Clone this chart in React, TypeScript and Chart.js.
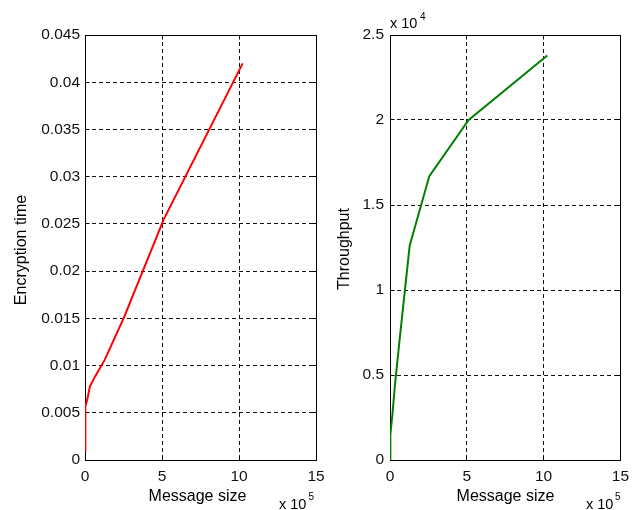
import React, { useEffect, useRef } from "react";
import { Chart, registerables } from "chart.js";

Chart.register(...registerables);

// ---- data ----
const MESSAGE_SIZES = [0, 1000, 2000, 4000, 8000, 16000, 32000, 64000, 128000, 256000, 512000, 1024000];
const ENCRYPTION_TIME = [0.001, 0.0045, 0.0052, 0.0057, 0.006, 0.0065, 0.0078, 0.0088, 0.0106, 0.0152, 0.0255, 0.042];
const THROUGHPUT = [0, 800, 1200, 1500, 2000, 2700, 4400, 7200, 12600, 16700, 20000, 23800];

const X_TICKS = [0, 500000, 1000000, 1500000];
const X_TICK_LABELS = ["0", "5", "10", "15"];
const TIME_TICKS = [0, 0.005, 0.01, 0.015, 0.02, 0.025, 0.03, 0.035, 0.04, 0.045];
const TIME_TICK_LABELS = ["0", "0.005", "0.01", "0.015", "0.02", "0.025", "0.03", "0.035", "0.04", "0.045"];
const THR_TICKS = [0, 5000, 10000, 15000, 20000, 25000];
const THR_TICK_LABELS = ["0", "0.5", "1", "1.5", "2", "2.5"];

const FONT = '"Liberation Sans", Arial, sans-serif';

type TextItem = { text: string; x: number; y: number; size: number; align?: CanvasTextAlign; rotate?: boolean };

function align(v: number) {
  return Math.round(v - 0.5) + 0.5;
}

function boxPlugin(xTicks: number[], yTicks: number[]) {
  return {
    id: "matlabBox",
    beforeDatasetsDraw(chart: any) {
      const { ctx, chartArea } = chart;
      const l = align(chartArea.left), r = align(chartArea.right);
      const t = align(chartArea.top), b = align(chartArea.bottom);
      ctx.save();
      ctx.strokeStyle = "#000";
      ctx.lineWidth = 1;
      ctx.setLineDash([]);
      ctx.strokeRect(l, t, r - l, b - t);
      const tl = 4;
      ctx.beginPath();
      for (const v of xTicks) {
        const px = align(chart.scales.x.getPixelForValue(v));
        ctx.moveTo(px, b); ctx.lineTo(px, b - tl);
        ctx.moveTo(px, t); ctx.lineTo(px, t + tl);
      }
      for (const v of yTicks) {
        const py = align(chart.scales.y.getPixelForValue(v));
        ctx.moveTo(l, py); ctx.lineTo(l + tl, py);
        ctx.moveTo(r, py); ctx.lineTo(r - tl, py);
      }
      ctx.stroke();
      ctx.restore();
    },
  };
}

function textPlugin(items: TextItem[]) {
  return {
    id: "matlabText",
    afterDraw(chart: any) {
      const ctx = chart.ctx;
      ctx.save();
      ctx.fillStyle = "#000";
      ctx.textBaseline = "alphabetic";
      for (const it of items) {
        ctx.font = `${it.size}px ${FONT}`;
        ctx.textAlign = it.align || "left";
        if (it.rotate) {
          ctx.save();
          ctx.translate(it.x, it.y);
          ctx.rotate(-Math.PI / 2);
          ctx.fillText(it.text, 0, 0);
          ctx.restore();
        } else {
          ctx.fillText(it.text, it.x, it.y);
        }
      }
      ctx.restore();
    },
  };
}

function makeConfig(opts: {
  yValues: number[];
  color: string;
  yMax: number;
  yTicks: number[];
  yLabels: string[];
  yWidth: number;
  yPad: number;
  padRight: number;
  texts: TextItem[];
}): any {
  const data = MESSAGE_SIZES.map((s, i) => ({ x: s, y: opts.yValues[i] }));
  return {
    type: "line",
    data: {
      datasets: [
        {
          data,
          borderColor: opts.color,
          backgroundColor: opts.color,
          borderWidth: 2,
          pointRadius: 0,
          tension: 0,
          fill: false,
        },
      ],
    },
    options: {
      animation: false,
      responsive: false,
      events: [],
      layout: { autoPadding: false, padding: { left: 0, top: 35, right: opts.padRight, bottom: 0 } },
      plugins: { legend: { display: false }, tooltip: { enabled: false }, title: { display: false } },
      scales: {
        x: {
          type: "linear",
          min: 0,
          max: 1500000,
          afterFit: (s: any) => { s.height = 50; },
          afterBuildTicks: (s: any) => { s.ticks = X_TICKS.map((v) => ({ value: v })); },
          ticks: {
            callback: (_v: any, i: number) => X_TICK_LABELS[i],
            color: "#111",
            font: { family: FONT, size: 15.5 },
            padding: 7,
            maxRotation: 0,
            autoSkip: false,
          },
          grid: { display: true, color: "#111", lineWidth: 1, drawTicks: false },
          border: { display: false, dash: [4, 3] },
        },
        y: {
          type: "linear",
          min: 0,
          max: opts.yMax,
          afterFit: (s: any) => { s.width = opts.yWidth; },
          afterBuildTicks: (s: any) => { s.ticks = opts.yTicks.map((v) => ({ value: v })); },
          ticks: {
            callback: (_v: any, i: number) => opts.yLabels[i],
            color: "#111",
            font: { family: FONT, size: 15.5 },
            padding: opts.yPad,
            autoSkip: false,
          },
          grid: { display: true, color: "#111", lineWidth: 1, drawTicks: false },
          border: { display: false, dash: [4, 3] },
        },
      },
    },
    plugins: [boxPlugin(X_TICKS, opts.yTicks), textPlugin(opts.texts)],
  };
}

export default function App() {
  const leftRef = useRef<HTMLCanvasElement | null>(null);
  const rightRef = useRef<HTMLCanvasElement | null>(null);

  useEffect(() => {
    const RIGHT_OFF = 320;
    const left = new Chart(
      leftRef.current as HTMLCanvasElement,
      makeConfig({
        yValues: ENCRYPTION_TIME,
        color: "#ff0000",
        yMax: 0.045,
        yTicks: TIME_TICKS,
        yLabels: TIME_TICK_LABELS,
        yWidth: 85,
        yPad: 5,
        padRight: 340 - 316,
        texts: [
          { text: "Message size", x: 197.5, y: 501, size: 16, align: "center" },
          { text: "x 10", x: 279, y: 508.5, size: 14.5 },
          { text: "5", x: 308.5, y: 500, size: 10 },
          { text: "Encryption time", x: 26, y: 250, size: 16, align: "center", rotate: true },
        ],
      })
    );
    const right = new Chart(
      rightRef.current as HTMLCanvasElement,
      makeConfig({
        yValues: THROUGHPUT,
        color: "#008000",
        yMax: 25000,
        yTicks: THR_TICKS,
        yLabels: THR_TICK_LABELS,
        yWidth: 390 - RIGHT_OFF,
        yPad: 6,
        padRight: 316 - (622 - RIGHT_OFF),
        texts: [
          { text: "Message size", x: 505.5 - RIGHT_OFF, y: 501, size: 16, align: "center" },
          { text: "x 10", x: 586 - RIGHT_OFF, y: 508.5, size: 14.5 },
          { text: "5", x: 615 - RIGHT_OFF, y: 500, size: 10 },
          { text: "x 10", x: 390 - RIGHT_OFF, y: 28, size: 14.5 },
          { text: "4", x: 420 - RIGHT_OFF, y: 20, size: 10 },
          { text: "Throughput", x: 348.5 - RIGHT_OFF, y: 249, size: 16, align: "center", rotate: true },
        ],
      })
    );
    return () => {
      left.destroy();
      right.destroy();
    };
  }, []);

  return (
    <div style={{ position: "fixed", left: 0, top: 0, width: 636, height: 510, background: "#fff", overflow: "hidden" }}>
      <canvas ref={leftRef} width={340} height={510} style={{ position: "absolute", left: 0, top: 0 }} />
      <canvas ref={rightRef} width={316} height={510} style={{ position: "absolute", left: 320, top: 0 }} />
    </div>
  );
}
